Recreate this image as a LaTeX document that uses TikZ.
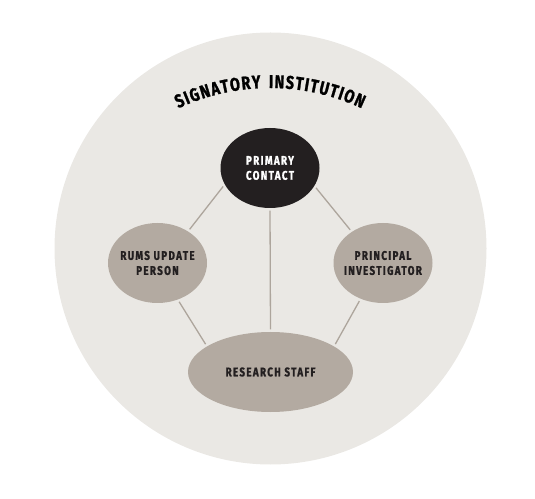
\documentclass[tikz,border=0pt]{standalone}
\usepackage{fontspec}
\usepackage{tikz}
\usetikzlibrary{shapes.geometric, decorations.text}
\newfontfamily\tagfont{Fira Sans}[FakeStretch=0.78, LetterSpace=11, FakeBold=1.3]
\definecolor{discbg}{HTML}{EAE8E4}
\definecolor{rolefill}{HTML}{B3AAA1}
\definecolor{linkgray}{HTML}{ADA59C}
\definecolor{inkdark}{HTML}{231F20}

\begin{document}
\begin{tikzpicture}[x=1pt, y=1pt,
  role/.style={ellipse, fill=rolefill, text=inkdark, inner xsep=-10pt, inner ysep=0pt, minimum width=99pt, minimum height=80pt, align=center, font=\tagfont\bfseries\fontsize{12.5}{15}\selectfont},
  lead/.style={role, fill=inkdark, text=white},
  link/.style={draw=linkgray, line width=1.3pt, shorten <=2.5pt, shorten >=2.5pt}]
\useasboundingbox (0,0) rectangle (535,498);
\node[circle, fill=discbg, minimum size=432pt, inner sep=0pt] (inst) at (270.5,249.5) {};
% title bent along the disc
\coordinate (bend) at (270,193);
\path[decorate, decoration={text along path, text align=fit to path,
  text={|\tagfont\bfseries\fontsize{18.5}{18}\selectfont|SIGNATORY INSTITUTION}}]
  ([shift={(115:217)}]bend) arc[start angle=115, end angle=65, radius=217];
\node[lead] (contact) at (270,330) {PRIMARY\\CONTACT};
\node[role] (rums) at (157.5,235) {RUMS UPDATE\\PERSON};
\node[role] (pi) at (383,235) {PRINCIPAL\\INVESTIGATOR};
\node[role, minimum width=165pt] (staff) at (270.5,126) {RESEARCH STAFF};
\draw[link] (contact.200) -- (rums.46);
\draw[link] (contact.338) -- (pi.135);
\draw[link] (contact.south) -- (staff.north);
\draw[link] (rums.299) -- (staff.158);
\draw[link] (pi.238) -- (staff.22);
\end{tikzpicture}
\end{document}
